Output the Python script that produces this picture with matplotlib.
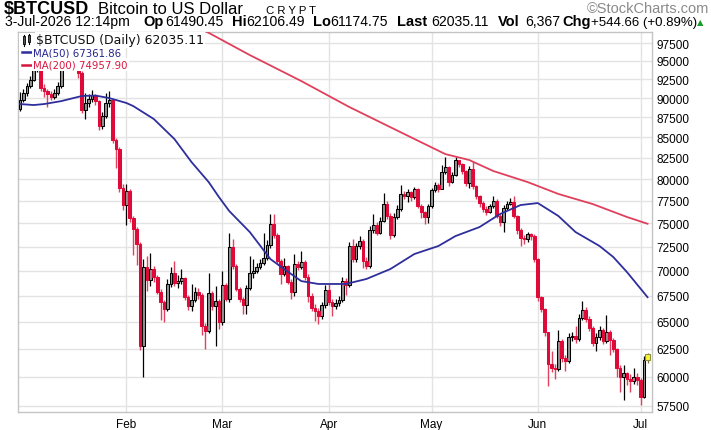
import numpy as np
import pandas as pd
import matplotlib
matplotlib.use("Agg")
import matplotlib.pyplot as plt
import matplotlib.dates as mdates
from matplotlib.patches import Rectangle
from matplotlib.lines import Line2D

# ---------------- data ----------------
start_date = "2026-01-01"
first_open = 88600

close = [89800, 90700, 91600, 92400, 93800, 94300, 91300, 90900, 90500, 90200,
         90700, 91600, 94700, 95600, 96300, 95700, 94900, 93400, 88500, 89400,
         89900, 90400, 89600, 86400, 87700, 89300, 89700, 84700, 83600, 79000,
         77000, 78600, 75600, 74400, 72800, 62700, 70400, 69100, 70200, 69400,
         67900, 66900, 66200, 68700, 69800, 68800, 69000, 69300, 67400, 66500,
         67100, 67900, 67600, 64600, 64100, 67800, 66500, 67000, 65000, 68600,
         67200, 72500, 70500, 68200, 67200, 66600, 68300, 69800, 70000, 70400,
         70800, 71300, 72700, 74900, 73700, 71000, 69700, 70500, 68900, 67900,
         70700, 70400, 70900, 69400, 67500, 66300, 66000, 65500, 66600, 68100,
         66900, 66500, 66800, 67100, 69000, 68600, 72600, 71200, 72600, 73100,
         71000, 70500, 74300, 74800, 74000, 75300, 77200, 75800, 73700, 75700,
         76600, 78300, 78000, 78500, 77900, 78800, 76900, 76200, 75700, 76900,
         78700, 79300, 78900, 80800, 81400, 79700, 80500, 82200, 81800, 80900,
         79500, 81200, 79200, 78000, 77300, 76600, 76300, 76900, 77500, 75800,
         75100, 76700, 77200, 77400, 75800, 74300, 73400, 73300, 73800, 73600,
         71200, 67400, 66200, 64000, 61100, 60800, 60700, 63200, 61700, 61400,
         63600, 63700, 63400, 65400, 66100, 65300, 64400, 63000, 63600, 64200,
         63200, 64000, 63300, 62500, 60800, 60000, 60300, 59800, 59600, 60000,
         59700, 58300, 61490.45, 62035.11]

high = [90800, 91200, 92000, 93000, 94400, 95400, 94600, 91800, 91200, 90900,
        91200, 92100, 95300, 96800, 97200, 96600, 95900, 95100, 93600, 90600,
        90500, 91100, 90500, 89800, 88200, 90700, 90900, 89900, 84900, 83800,
        79400, 79400, 78800, 75800, 74600, 73000, 71200, 71500, 71800, 70500,
        69600, 68200, 67100, 69200, 70400, 71000, 69600, 70200, 69400, 67600,
        68700, 68400, 68300, 67800, 64900, 69800, 68000, 68500, 67200, 70000,
        68800, 74000, 73300, 70700, 68400, 67400, 68600, 71500, 71200, 70800,
        71200, 74000, 73200, 76000, 76000, 74000, 71200, 71300, 70600, 69200,
        71700, 71000, 72000, 71100, 69700, 67800, 66700, 66300, 66900, 68600,
        68700, 67200, 67200, 67500, 69400, 69300, 73000, 73300, 72900, 73600,
        73300, 71400, 74700, 76000, 75100, 75700, 78400, 77500, 76100, 76100,
        77000, 79300, 78600, 78900, 78600, 79100, 79000, 77200, 76400, 77100,
        79000, 79700, 79500, 81600, 82600, 81500, 80800, 82600, 82300, 81900,
        81000, 81500, 82100, 79300, 78200, 77500, 76900, 77100, 78000, 77700,
        76000, 77000, 77500, 77800, 78000, 75900, 74500, 73700, 74100, 74000,
        73800, 71300, 67500, 66300, 64000, 62300, 61100, 64200, 63400, 61900,
        63900, 64000, 64600, 65700, 67000, 66400, 65500, 64600, 63900, 64600,
        64400, 65600, 64200, 63500, 62600, 61000, 61000, 60400, 60200, 60800,
        60300, 59900, 61800, 62106.49]

low = [88300, 89500, 90300, 91300, 92200, 93500, 90900, 90200, 88900, 89700,
       89900, 90400, 91300, 94300, 95100, 95000, 94200, 92600, 88100, 87300,
       88900, 89500, 89100, 85900, 86100, 87400, 88900, 84300, 81300, 78500,
       76500, 74800, 75200, 71600, 70600, 62400, 60000, 68000, 68500, 68900,
       67700, 65200, 65000, 66000, 68400, 68500, 68300, 68700, 67100, 66100,
       66000, 66900, 67200, 63800, 62500, 63900, 66100, 62700, 64300, 64700,
       67000, 66900, 70200, 68000, 66900, 65700, 65700, 68100, 69300, 69800,
       70200, 70600, 71100, 72400, 73400, 70700, 68700, 69500, 68700, 67200,
       67500, 70100, 70200, 69100, 66900, 66000, 65100, 64800, 65300, 66300,
       66600, 65500, 66200, 66500, 66900, 67600, 68400, 70900, 70900, 72300,
       70300, 70200, 70300, 74000, 73700, 73800, 75100, 75500, 73300, 73500,
       75500, 76400, 77700, 77400, 77500, 77700, 76700, 75600, 74900, 75000,
       76700, 78500, 78500, 78800, 80600, 79200, 79500, 80300, 81400, 80600,
       79200, 79000, 78800, 77700, 76800, 76300, 75900, 76100, 76700, 75600,
       74700, 74100, 76500, 77000, 75600, 73900, 72600, 72800, 73000, 73200,
       70900, 67000, 65900, 63700, 59200, 60400, 59800, 60500, 61300, 60500,
       61200, 63200, 63000, 63200, 65200, 65000, 64100, 62700, 62300, 63300,
       62900, 63000, 61900, 62200, 60000, 58700, 58000, 59300, 58700, 59400,
       59300, 57600, 58200, 61174.75]

ma50_dates = ["2026-01-01", "2026-01-05", "2026-01-08", "2026-01-13", "2026-01-19",
              "2026-01-23", "2026-01-27", "2026-02-01", "2026-02-03", "2026-02-09",
              "2026-02-15", "2026-02-20", "2026-02-25", "2026-02-28", "2026-03-03",
              "2026-03-09", "2026-03-15", "2026-03-19", "2026-03-24", "2026-03-29",
              "2026-04-06", "2026-04-12", "2026-04-19", "2026-04-26", "2026-05-03",
              "2026-05-08", "2026-05-15", "2026-05-21", "2026-05-27", "2026-06-01",
              "2026-06-07", "2026-06-12", "2026-06-19", "2026-06-23", "2026-06-27",
              "2026-07-03"]
ma50_vals = [89220, 89090, 89220, 89600, 90270, 90330, 90000, 89360, 88960, 87300,
             84800, 82000, 79650, 77930, 76360, 74060, 71210, 70180, 68960, 68670,
             68670, 69170, 70180, 71730, 72570, 73630, 74600, 76030, 77030, 77250,
             75810, 74060, 72570, 71420, 69870, 67361.86]

ma200_dates = ["2026-02-23", "2026-03-09", "2026-03-24", "2026-04-07", "2026-04-26",
               "2026-05-05", "2026-05-12", "2026-05-19", "2026-05-29", "2026-06-07",
               "2026-06-17", "2026-06-27", "2026-07-03"]
ma200_vals = [99500, 95810, 92260, 88840, 84800, 82960, 82240, 80940, 79650, 78280,
              77140, 75700, 74957.90]

y_tick_values = [57500, 60000, 62500, 65000, 67500, 70000, 72500, 75000, 77500,
                 80000, 82500, 85000, 87500, 90000, 92500, 95000, 97500]
month_tick_dates = ["2026-02-01", "2026-03-01", "2026-04-01", "2026-05-01",
                    "2026-06-01", "2026-07-01"]
month_labels = ["Feb", "Mar", "Apr", "May", "Jun", "Jul"]

# ---------------- figure ----------------
W, H = 711, 431
fig = plt.figure(figsize=(W / 100, H / 100), dpi=100)
fig.patch.set_facecolor("white")

L, R, T, B = 18, 652, 33, 413
ax = fig.add_axes([L / W, 1 - B / H, (R - L) / W, (B - T) / H])
ax.set_yscale("log")

dates = pd.date_range(start_date, periods=len(close), freq="D")
x = mdates.date2num(dates)
c = np.array(close, dtype=float)
o = np.concatenate([[first_open], c[:-1]])
hi = np.array(high, dtype=float)
lo = np.array(low, dtype=float)

up = c >= o
dn = ~up
last = np.zeros(len(c), dtype=bool)
last[-1] = True

RED = "#de0a3a"
RED_WICK = "#e2405f"
GRAY = "#929292"

ax.vlines(x[up & ~last], lo[up & ~last], hi[up & ~last], color="black", lw=0.9, zorder=3)
ax.vlines(x[dn], lo[dn], hi[dn], color=RED_WICK, lw=1.0, zorder=3)
ax.vlines(x[last], lo[last], hi[last], color="#777733", lw=0.9, zorder=3)

bw = 0.8
m = up & ~last
ax.bar(x[m], (c - o)[m], bottom=o[m], width=bw, color=GRAY, edgecolor="black",
       linewidth=0.75, zorder=4)
ax.bar(x[dn], (o - c)[dn], bottom=c[dn], width=bw, color=RED, edgecolor=RED,
       linewidth=0.75, zorder=4)
ax.bar(x[last], (c - o)[last], bottom=o[last], width=bw + 0.4, color="#f4f43a",
       edgecolor="#8a8a40", linewidth=0.75, zorder=4)

ma50_x = mdates.date2num(pd.to_datetime(ma50_dates))
ma200_x = mdates.date2num(pd.to_datetime(ma200_dates))
ax.plot(ma50_x, ma50_vals, color="#2e2e9c", lw=1.3, zorder=5)
ax.plot(ma200_x, ma200_vals, color="#e0405c", lw=1.3, zorder=5)

x0 = mdates.date2num(pd.Timestamp(start_date))
ax.set_xlim(x0 - 0.6, x0 + 184.3)
ax.set_ylim(57000, 99080)

ax.yaxis.tick_right()
ax.set_yticks(y_tick_values)
ax.set_yticklabels([str(v) for v in y_tick_values], fontsize=8.5,
                   fontfamily="Liberation Sans")
ax.yaxis.set_minor_locator(matplotlib.ticker.NullLocator())
ax.tick_params(axis="y", length=0, pad=3)

ax.set_xticks(mdates.date2num(pd.to_datetime(month_tick_dates)))
ax.set_xticklabels(month_labels, fontsize=8.5, fontfamily="Liberation Sans")
ax.tick_params(axis="x", length=0, pad=4)

ax.grid(True, color="#e3e3e3", lw=1.0, zorder=0)
ax.set_axisbelow(True)
for s in ax.spines.values():
    s.set_color("#c4c4c4")
    s.set_linewidth(1.0)
ax.spines["bottom"].set_linestyle((0, (1, 1)))


def fx(px):
    return px / W


def fy(py):
    return 1 - py / H


# ---------------- legend inside plot ----------------
leg_font = "DejaVu Sans"
bb = dict(facecolor="white", edgecolor="none", pad=1.0)
fig.text(fx(36), fy(40.7), "$BTCUSD (Daily) 62035.11", color="#111111",
         fontsize=9.0, fontfamily=leg_font, va="center", ha="left", bbox=bb)
fig.text(fx(33), fy(53.3), "MA(50) 67361.86", color="#23238f",
         fontsize=7.3, fontfamily=leg_font, va="center", ha="left", bbox=bb)
fig.text(fx(33), fy(65.7), "MA(200) 74957.90", color="#d8153e",
         fontsize=7.3, fontfamily=leg_font, va="center", ha="left", bbox=bb)
fig.add_artist(Rectangle((fx(19), fy(71)), fx(15), (71 - 34) / H,
                         transform=fig.transFigure, facecolor="white",
                         edgecolor="none", zorder=2.5))
for px0, ytop, ybot in [(23, 37, 45), (28, 36, 43)]:
    fig.add_artist(Line2D([fx(px0 + 1), fx(px0 + 1)], [fy(ytop - 1.5), fy(ybot + 1.5)],
                          transform=fig.transFigure, color="black", lw=0.8, zorder=3))
    fig.add_artist(Rectangle((fx(px0), fy(ybot)), fx(2.2), (ybot - ytop) / H,
                             transform=fig.transFigure, facecolor="#555555",
                             edgecolor="black", lw=0.6, zorder=3))
fig.add_artist(Line2D([fx(22), fx(32)], [fy(53.3), fy(53.3)], transform=fig.transFigure,
                      color="#2e2e9c", lw=1.8, zorder=3))
fig.add_artist(Line2D([fx(22), fx(32)], [fy(65.7), fy(65.7)], transform=fig.transFigure,
                      color="#d8153e", lw=1.8, zorder=3))

# ---------------- header ----------------
hf = "Liberation Sans"
fig.text(fx(4), fy(14), "$BTCUSD", fontsize=13.0, fontweight="bold", fontfamily=hf,
         va="baseline", ha="left", color="black")
fig.text(fx(98), fy(14), "Bitcoin to US Dollar", fontsize=12.0, fontfamily=hf,
         va="baseline", ha="left", color="black")
fig.text(fx(266), fy(14), "C R Y P T", fontsize=8.2, fontfamily=hf,
         va="baseline", ha="left", color="black")
fig.text(fx(709), fy(13), "\u00a9StockCharts.com", fontsize=10.5, fontfamily=hf,
         va="baseline", ha="right", color="#8a8a8a")

line2 = [
    (5, "3-Jul-2026 12:14pm", "normal", 10.1),
    (143, "Op", "bold", 10.5), (165, "61490.45", "normal", 10.1),
    (232, "Hi", "bold", 10.5), (246, "62106.49", "normal", 10.1),
    (313, "Lo", "bold", 10.5), (330, "61174.75", "normal", 10.1),
    (397, "Last", "bold", 10.5), (431, "62035.11", "normal", 10.1),
    (498, "Vol", "bold", 10.5), (525, "6,367", "normal", 10.1),
    (562, "Chg", "bold", 10.5), (591, "+544.66 (+0.89%)", "normal", 9.5),
]
for px, s, wgt, fs in line2:
    fig.text(fx(px), fy(26), s, fontsize=fs, fontweight=wgt, fontfamily=hf,
             va="baseline", ha="left", color="black")
fig.text(fx(697), fy(25.5), "\u25b2", fontsize=6, fontfamily="DejaVu Sans",
         va="baseline", ha="left", color="#1a9a2a")

fig.savefig("out.png", dpi=100, facecolor="white")
